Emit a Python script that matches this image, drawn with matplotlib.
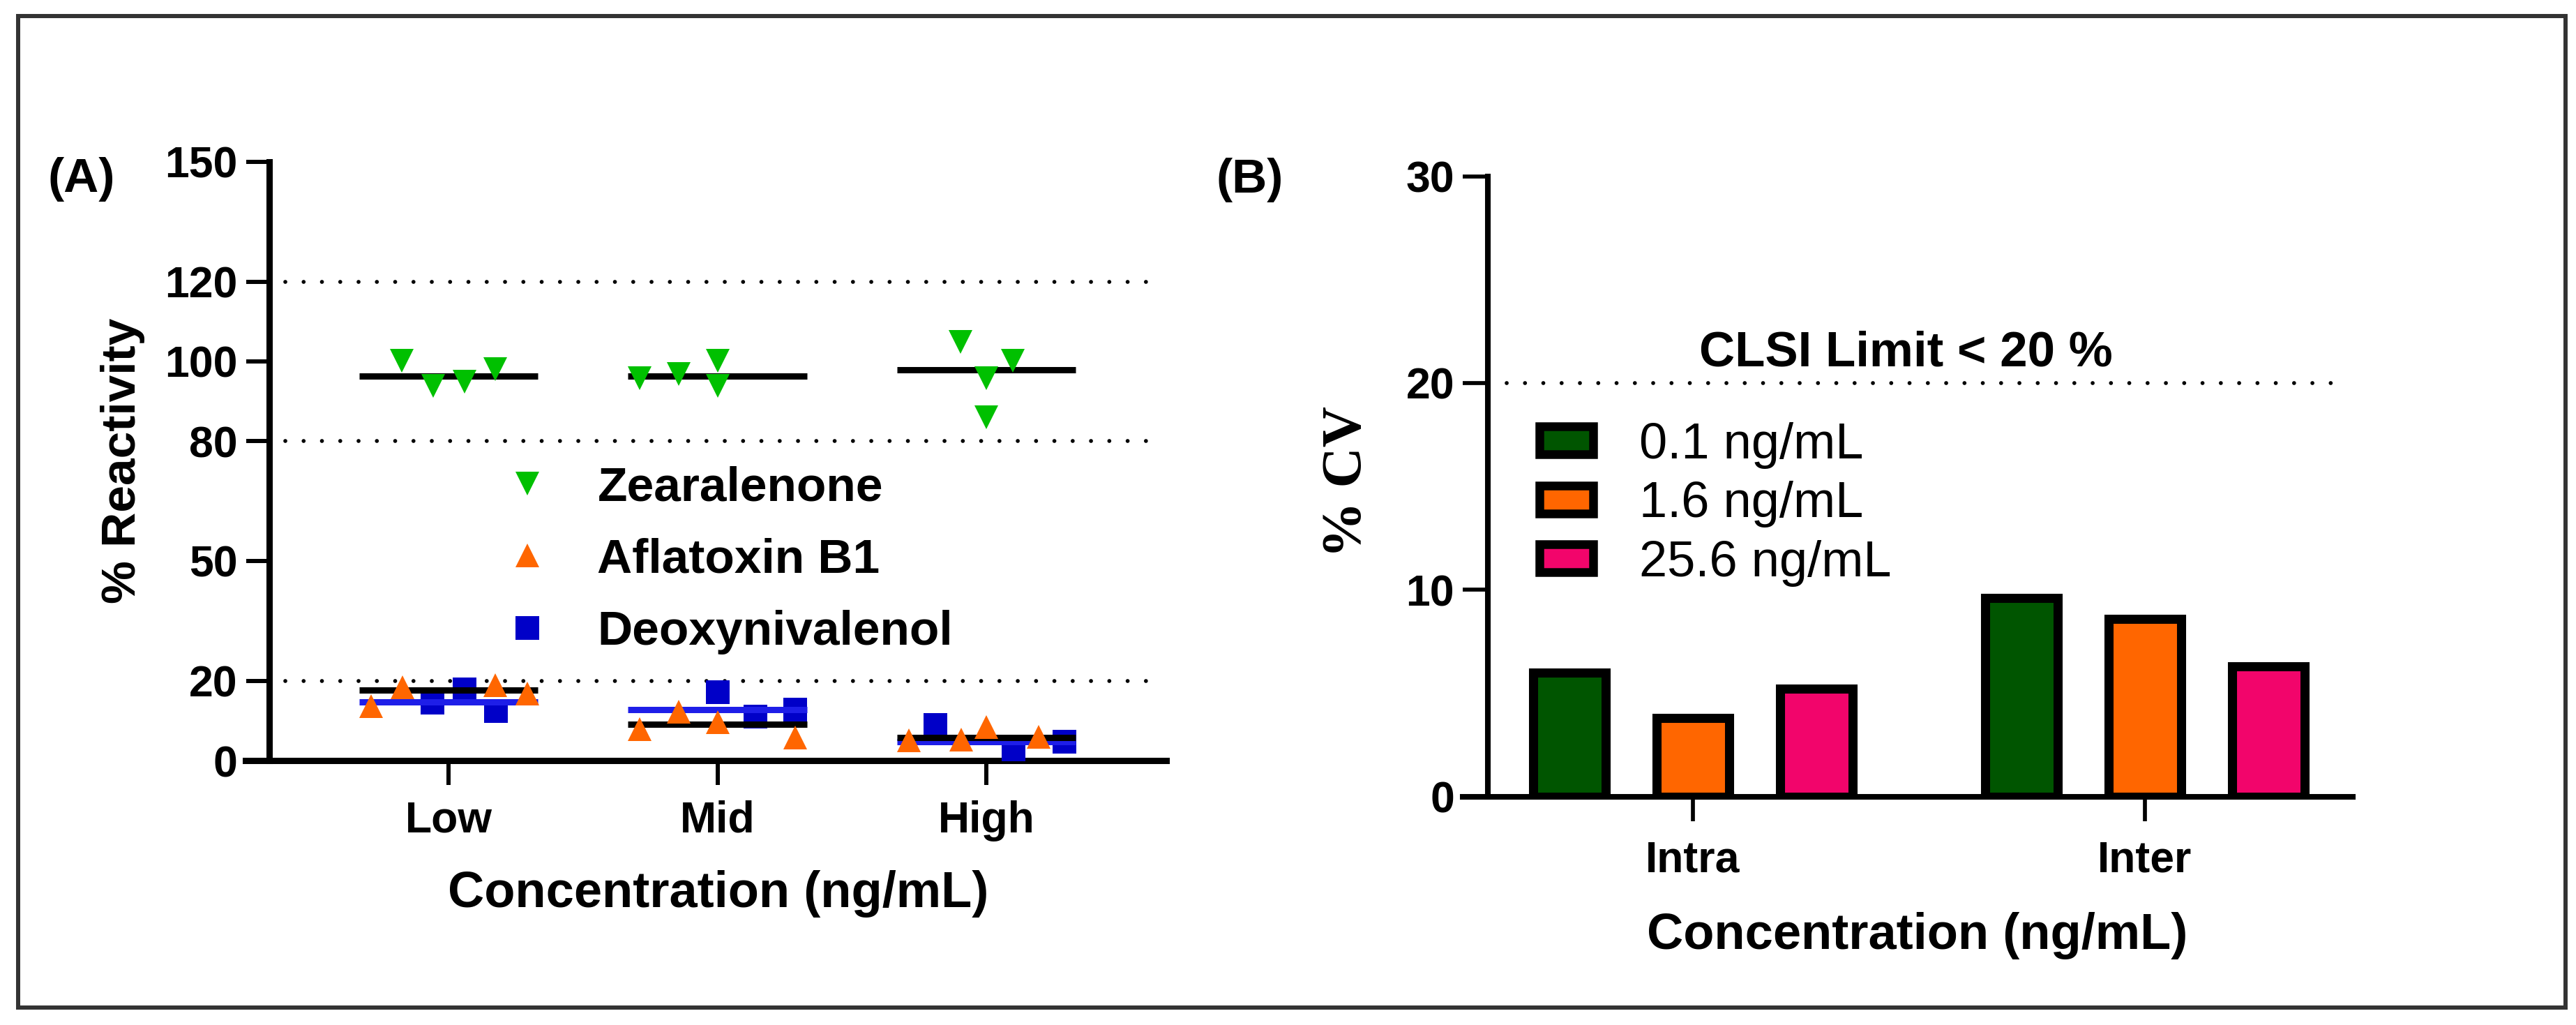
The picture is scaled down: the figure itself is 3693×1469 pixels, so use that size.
import numpy as np
import matplotlib
matplotlib.use('Agg')
import matplotlib.pyplot as plt
from matplotlib.patches import Patch, Rectangle

plt.rcParams['font.family'] = ['Liberation Sans', 'DejaVu Sans']
plt.rcParams['font.weight'] = 'bold'

# ---- Panel A: % reactivity ----
levels = ['Low', 'Mid', 'High']
zea = [[100.2, 93.9, 94.9, 98.0], [95.8, 96.9, 100.2, 93.9], [104.9, 100.2, 95.8, 86.0]]
afla = [[13.6, 18.4, 18.9, 16.8], [7.9, 12.2, 9.7, 5.8], [5.1, 5.2, 8.4, 6.0]]
don = [[14.5, 17.9, 12.5], [17.2, 11.0, 12.8], [8.9, 1.8, 4.8]]
zea_mean = [96.3, 96.3, 97.9]
afla_mean = [17.6, 9.1, 5.7]
don_mean = [14.6, 12.8, 4.7]
limits_a = [120, 80, 20]
yticks_a = [0, 20, 50, 80, 100, 120, 150]

# horizontal scatter of the points inside each column
zea_jit = [[-0.174, -0.057, 0.06, 0.174], [-0.29, -0.145, 0, 0], [-0.096, 0.099, 0, 0]]
afla_jit = [[-0.288, -0.171, 0.174, 0.293], [-0.29, -0.145, 0, 0.29], [-0.288, -0.093, 0, 0.195]]
don_jit = [[-0.06, 0.06, 0.176], [0, 0.14, 0.29], [-0.19, 0.1, 0.29]]

# ---- Panel B: % CV ----
assays = ['Intra', 'Inter']
conc_labels = ['0.1 ng/mL', '1.6 ng/mL', '25.6 ng/mL']
cv_01 = [6.0, 9.6]
cv_16 = [3.8, 8.6]
cv_256 = [5.2, 6.3]
clsi_limit = 20

W, H = 3693, 1469
fig = plt.figure(figsize=(W / 100, H / 100), dpi=100)


def fx(px):
    return px / W


def fy(py):
    return 1 - py / H


def flat(groups, jit):
    xs, ys = [], []
    for i, (g, j) in enumerate(zip(groups, jit)):
        xs += [i + d for d in j]
        ys += list(g)
    return xs, ys


dots = (0, (0.01, 4.6))

# ================= Panel A =================
axA = fig.add_axes([fx(386), fy(1090), fx(1672) - fx(386), fy(232) - fy(1090)])
axA.set_xlim(-0.667, 2.669)
axA.set_ylim(0, 150)

for y in limits_a:
    axA.axhline(y, xmin=0.018, xmax=0.982, color='black', lw=4.1,
                ls=dots, dash_capstyle='round', zorder=1)

pos = np.arange(len(levels))
hw = 0.333
x, y = flat(don, don_jit)
h_don, = axA.plot(x, y, 's', ms=24, color='#0000C8', mew=0, zorder=3, label='Deoxynivalenol')
axA.hlines(don_mean, pos - hw, pos + hw, colors='#1E1EE8', lw=6.5, zorder=4)
axA.hlines(afla_mean, pos - hw, pos + hw, colors='black', lw=6.5, zorder=5)
x, y = flat(afla, afla_jit)
h_afla, = axA.plot(x, y, '^', ms=25, color='#FF6600', mew=0, zorder=6, label='Aflatoxin B1')
axA.hlines(zea_mean, pos - hw, pos + hw, colors='black', lw=6.5, zorder=5)
x, y = flat(zea, zea_jit)
h_zea, = axA.plot(x, y, 'v', ms=25, color='#00C000', mew=0, zorder=6, label='Zearalenone')

axA.spines['top'].set_visible(False)
axA.spines['right'].set_visible(False)
for s in ['left', 'bottom']:
    axA.spines[s].set_linewidth(6.5)
axA.spines['bottom'].set_bounds(-0.755, 2.669)
axA.spines['left'].set_bounds(0, 150)
axA.set_xticks(pos, levels)
axA.set_yticks(yticks_a)
axA.tick_params(axis='y', direction='out', length=24, width=4.3, labelsize=45, pad=8.5)
axA.tick_params(axis='x', direction='out', length=25, width=4.3, labelsize=45, pad=16)

axA.legend(handles=[h_zea, h_afla, h_don], loc='upper left',
           bbox_to_anchor=(fx(721), fy(667)), bbox_transform=fig.transFigure,
           frameon=False, borderpad=0, borderaxespad=0, handlelength=1.0,
           handletextpad=0.95, labelspacing=0.57, numpoints=1,
           prop={'size': 50, 'weight': 'bold'})

fig.text(fx(176), fy(660), '% Reactivity', rotation=90, ha='center', va='center',
         fontsize=50, weight='bold')
fig.text(fx(1030), fy(1300), 'Concentration (ng/mL)', ha='center', va='baseline',
         fontsize=52, weight='bold')
fig.text(fx(117), fy(257), '(A)', ha='center', va='center', fontsize=50, weight='bold')

# ================= Panel B =================
axB = fig.add_axes([fx(2133), fy(1141.5), fx(3373) - fx(2133), fy(252.6) - fy(1141.5)])
axB.set_xlim(-0.4537, 1.4599)
axB.set_ylim(0, 30)

xb = np.arange(len(assays))
offs = [-0.273, 0, 0.273]
colors_b = ['#005500', '#FF6600', '#F2056B']
handles_b = []
for vals, off, c, lab in zip([cv_01, cv_16, cv_256], offs, colors_b, conc_labels):
    axB.bar(xb + off, vals, width=0.1605, color=c, edgecolor='black', linewidth=9.4, zorder=3)
    handles_b.append(Patch(facecolor=c, edgecolor='black', linewidth=9, label=lab))

axB.axhline(clsi_limit, xmin=0.022, xmax=0.992, color='black', lw=4.1,
            ls=dots, dash_capstyle='round', zorder=1)
axB.text(0.472, 20.84, 'CLSI Limit < 20 %', ha='center', va='baseline', fontsize=51,
         weight='bold')

axB.spines['top'].set_visible(False)
axB.spines['right'].set_visible(False)
for s in ['left', 'bottom']:
    axB.spines[s].set_linewidth(5.8)
axB.spines['bottom'].set_bounds(-0.509, 1.4599)
axB.spines['left'].set_bounds(0, 30)
axB.set_xticks(xb, assays)
axB.set_yticks([0, 10, 20, 30])
axB.tick_params(axis='y', direction='out', length=26, width=4.1, labelsize=45, pad=8.5)
axB.tick_params(axis='x', direction='out', length=25, width=4.1, labelsize=45, pad=20)

axB.legend(handles=handles_b, loc='upper left',
           bbox_to_anchor=(fx(2207), fy(605)), bbox_transform=fig.transFigure,
           frameon=False, borderpad=0, borderaxespad=0, handlelength=1.07,
           handleheight=0.47, handletextpad=0.91, labelspacing=0.24,
           prop={'size': 52, 'weight': 'normal'})

fig.text(fx(1932), fy(691), '% CV', rotation=90, ha='center', va='center',
         fontsize=58, weight='bold', family=['Liberation Serif', 'DejaVu Serif'])
fig.text(fx(2749), fy(1360), 'Concentration (ng/mL)', ha='center', va='baseline',
         fontsize=52, weight='bold')
fig.text(fx(1792), fy(258), '(B)', ha='center', va='center', fontsize=50, weight='bold')

# outer frame
fig.add_artist(Rectangle((fx(26), fy(1444)), fx(3678) - fx(26), fy(23) - fy(1444),
                         transform=fig.transFigure, fill=False, edgecolor='#333333', lw=4.3))

fig.savefig('out.png', dpi=100)
